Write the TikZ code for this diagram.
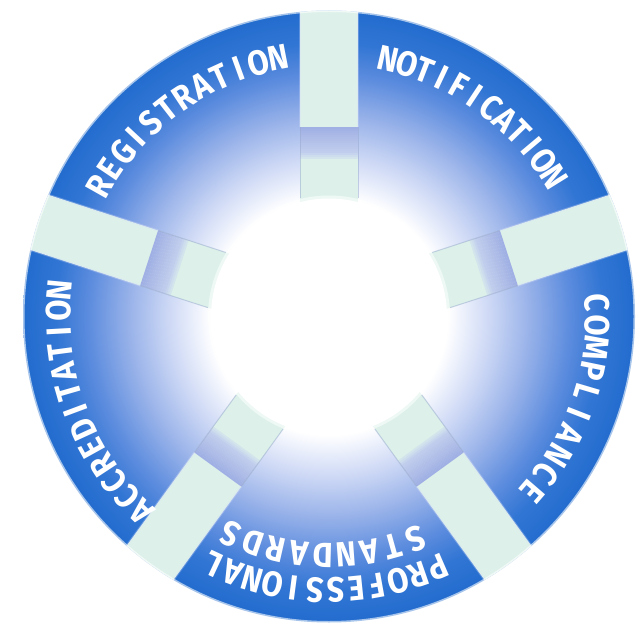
\documentclass[tikz,border=0pt]{standalone}
\usepackage{fontspec}
\newfontfamily\lblfont{Fira Sans}
\usetikzlibrary{calc}

\definecolor{ringblue}{RGB}{34,108,206}
\definecolor{sA}{RGB}{238,242,252}
\definecolor{sB}{RGB}{205,216,245}
\definecolor{sC}{RGB}{152,178,233}
\definecolor{sD}{RGB}{92,140,222}
\definecolor{sE}{RGB}{50,118,212}
\definecolor{spokemint}{RGB}{221,241,234}
\definecolor{bandlav}{RGB}{160,176,228}
\definecolor{bandlight}{RGB}{200,212,239}
\definecolor{spokeedge}{RGB}{150,168,205}

\pgfdeclareradialshading{ringshade}{\pgfpoint{0bp}{0bp}}{%
  color(0bp)=(white); color(118bp)=(white); color(132bp)=(sA);
  color(160bp)=(sB); color(200bp)=(sC); color(240bp)=(sD);
  color(272bp)=(sE); color(306bp)=(ringblue); color(320bp)=(ringblue)}

\newcommand\labelfont{\lblfont\bfseries\fontsize{35}{35}\selectfont}
\newcommand\lettrbox[1]{\scalebox{0.88}[1]{\labelfont #1}}
\newlength\lw
% #1 baseline radius, #2 start angle, #3 end angle, #4 comma list of letters
\newcommand\arcword[4]{%
  \gdef\totw{0}\gdef\nch{0}%
  \foreach \letr in {#4}{%
    \settowidth{\lw}{\lettrbox{\letr}}%
    \pgfmathsetmacro\tmp{\totw+\lw}\xdef\totw{\tmp}%
    \pgfmathtruncatemacro\tmpn{\nch+1}\xdef\nch{\tmpn}}%
  \pgfmathsetmacro\tmp{(((#2)-(#3))*pi/180*(#1)-\totw)/(\nch-1)}\xdef\gap{\tmp}%
  \xdef\cur{#2}%
  \foreach \letr in {#4}{%
    \settowidth{\lw}{\lettrbox{\letr}}%
    \pgfmathsetmacro\ang{\cur-\lw/2/(#1)*180/pi}%
    \node[lettr, rotate=\ang-90] at ($(C)+(\ang:#1)$) {\lettrbox{\letr}};
    \pgfmathsetmacro\tmp{\cur-(\lw+\gap)/(#1)*180/pi}\xdef\cur{\tmp}}%
}

\tikzset{
  lettr/.style={text=white, inner sep=0pt, anchor=base},
}

\begin{document}
\begin{tikzpicture}[x=1pt,y=1pt]
\useasboundingbox (0,0) rectangle (642,627);
\fill[white] (0,0) rectangle (642,627);
\coordinate (C) at (329,310.5);

\begin{scope}
  \clip (C) circle[radius=306];
  \node[inner sep=0pt] (bg) at (C) {\pgfuseshading{ringshade}};
  \foreach \a in {90,18,-54,-126,162}{
    \begin{scope}[shift={(C)}, rotate=\a]
      \fill[spokemint] (100,-29) rectangle (320,29);
      \foreach \i in {0,...,15}{
        \pgfmathtruncatemacro\p{100*\i/15}
        \pgfmathtruncatemacro\q{min(100,45+20*\i)}
        \fill[bandlav!\p!bandlight!\q!spokemint] (157+2*\i,-29) rectangle (159.2+2*\i,29);
      }
      \draw[spokeedge, opacity=.5, line width=1] (118,-29) -- (189,-29) (118,29) -- (189,29);
      \draw[spokemint!70!blue!40!white, opacity=.3, line width=2] (189,-29) -- (320,-29) (189,29) -- (320,29);
    \end{scope}
  }
\end{scope}

\fill[white] (C) circle[radius=118];
\draw[white, opacity=.5, line width=4] (C) circle[radius=119];
\draw[white, opacity=.6, line width=3] (C) circle[radius=306];

\arcword{251.5}{150.5}{101}{R,E,G,I,S,T,R,A,T,I,O,N}
\arcword{252.5}{77}{31.8}{N,O,T,I,F,I,C,A,T,I,O,N}
\arcword{256.5}{3}{-40.8}{C,O,M,P,L,I,A,N,C,E}
\arcword{258.5}{226.3}{174.5}{A,C,C,R,E,D,I,T,A,T,I,O,N}
\arcword{261.5}{-66.5}{-115.1}{P,R,O,F,E,S,S,I,O,N,A,L}
\arcword{226.5}{-68.7}{-114.3}{S,T,A,N,D,A,R,D,S}
\end{tikzpicture}
\end{document}
